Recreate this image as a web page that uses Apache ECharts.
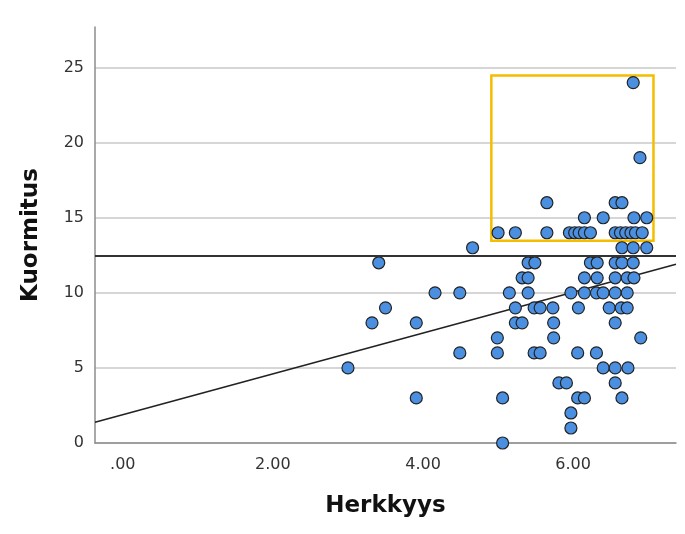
<!DOCTYPE html>
<html><head><meta charset="utf-8">
<script src="https://cdn.jsdelivr.net/npm/echarts@6/dist/echarts.min.js"></script>
<style>html,body{margin:0;padding:0;background:#fff}#c{width:685px;height:534px}</style>
</head><body><div id="c"></div>
<script>
// Kuormitus levels (y) and Herkkyys values (x) of the points at each level
const kuormitusLevels = [24, 19, 16, 15, 14, 13, 12, 11, 10, 9, 8, 7, 6, 5, 4, 3, 2, 1, 0];
const herkkyysByLevel = [
  [6.80],
  [6.89],
  [5.65, 6.56, 6.65],
  [6.15, 6.40, 6.81, 6.98],
  [5.00, 5.23, 5.65, 5.95, 6.02, 6.08, 6.15, 6.23, 6.56, 6.63, 6.70, 6.77, 6.83, 6.92],
  [4.66, 6.65, 6.80, 6.98],
  [3.41, 5.40, 5.49, 6.23, 6.32, 6.56, 6.65, 6.80],
  [5.32, 5.40, 6.15, 6.32, 6.56, 6.72, 6.81],
  [4.16, 4.49, 5.15, 5.40, 5.97, 6.15, 6.31, 6.40, 6.56, 6.72],
  [3.50, 5.23, 5.48, 5.56, 5.73, 6.07, 6.48, 6.64, 6.72],
  [3.32, 3.91, 5.23, 5.32, 5.74, 6.56],
  [4.99, 5.74, 6.90],
  [4.49, 4.99, 5.48, 5.56, 6.06, 6.31],
  [3.00, 6.40, 6.56, 6.73],
  [5.81, 5.91, 6.56],
  [3.91, 5.06, 6.06, 6.15, 6.65],
  [5.97],
  [5.97],
  [5.06]
];
// Fit line end points (x, y)
const fitLineX = [-0.37, 7.37];
const fitLineY = [1.38, 11.9];
// Horizontal reference level
const refLevel = 12.5;
// Highlight box (data coordinates)
const boxX = [4.91, 7.07];
const boxY = [13.47, 24.47];
// Axis extents and ticks
const xExtent = [-0.37, 7.37];
const xTickValues = [0, 2, 4, 6];
const yExtent = [0, 27.7];
const yTickStep = 5;

const points = [];
kuormitusLevels.forEach((y, i) => herkkyysByLevel[i].forEach(x => points.push([x, y])));

const chart = echarts.init(document.getElementById('c'));
const labelFont = 'DejaVu Sans';
chart.setOption({
  animation: false,
  backgroundColor: '#fff',
  grid: { left: 95, right: 9, top: 27, bottom: 91 },
  xAxis: {
    type: 'value', min: xExtent[0], max: xExtent[1], splitNumber: 4,
    name: 'Herkkyys', nameLocation: 'middle', nameGap: 52,
    nameTextStyle: { fontFamily: labelFont, fontWeight: 'bold', fontSize: 23, color: '#111' },
    axisLine: { onZero: false, lineStyle: { color: '#8c8c8c', width: 1.5 } },
    axisTick: { show: false },
    splitLine: { show: false },
    axisLabel: {
      margin: 14, fontFamily: labelFont, fontSize: 16, color: '#333',
      formatter: v => {
        const hit = xTickValues.find(t => Math.abs(t - v) < 1e-6);
        if (hit === undefined) return '';
        const s = hit.toFixed(2);
        return hit === 0 ? s.replace(/^0/, '') : s;
      }
    }
  },
  yAxis: {
    type: 'value', min: yExtent[0], max: yExtent[1], interval: yTickStep,
    name: 'Kuormitus', nameLocation: 'middle', nameGap: 52,
    nameTextStyle: { fontFamily: labelFont, fontWeight: 'bold', fontSize: 23, color: '#111' },
    axisLine: { show: true, onZero: false, lineStyle: { color: '#8c8c8c', width: 1.5 } },
    axisTick: { show: false },
    splitLine: { show: true, showMaxLine: false, lineStyle: { color: '#c9c9c9', width: 1.5 } },
    axisLabel: {
      margin: 11, fontFamily: labelFont, fontSize: 16, color: '#333', showMaxLabel: false,
      formatter: v => (Math.abs(v % yTickStep) < 1e-6 ? String(v) : '')
    }
  },
  series: [
    {
      type: 'line', data: [[fitLineX[0], fitLineY[0]], [fitLineX[1], fitLineY[1]]],
      symbol: 'none', lineStyle: { color: '#222', width: 1.6 }, silent: true, z: 3,
      markLine: {
        silent: true, symbol: 'none', label: { show: false },
        lineStyle: { color: '#333', width: 2, type: 'solid' },
        data: [{ yAxis: refLevel }]
      }
    },
    {
      type: 'scatter', data: points, symbolSize: 12, z: 4,
      itemStyle: { color: '#4a8fe0', borderColor: '#222', borderWidth: 1.2, opacity: 1 },
      markArea: {
        silent: true,
        itemStyle: { color: 'rgba(0,0,0,0)', borderColor: '#f5bd00', borderWidth: 2.5 },
        data: [[{ coord: [boxX[0], boxY[0]] }, { coord: [boxX[1], boxY[1]] }]]
      }
    }
  ]
});
</script>
</body></html>
